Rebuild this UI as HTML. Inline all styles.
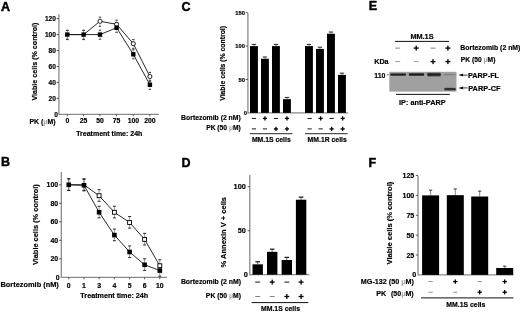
<!DOCTYPE html>
<html><head><meta charset="utf-8"><style>
html,body{margin:0;padding:0;background:#fff;}
body{width:520px;height:312px;overflow:hidden;}
svg{display:block;font-family:"Liberation Sans",sans-serif;filter:grayscale(1) blur(0.3px);}
</style></head><body>
<svg width="520" height="312" viewBox="0 0 520 312">
<rect width="520" height="312" fill="#fff"/>
<text x="1.00" y="10.60" font-size="12.5" text-anchor="start" font-weight="bold" fill="#000" stroke="#000" stroke-width="0.45">A</text>
<text x="0.90" y="166.40" font-size="12.5" text-anchor="start" font-weight="bold" fill="#000" stroke="#000" stroke-width="0.45">B</text>
<text x="181.60" y="10.60" font-size="12.5" text-anchor="start" font-weight="bold" fill="#000" stroke="#000" stroke-width="0.45">C</text>
<text x="181.50" y="166.50" font-size="12.5" text-anchor="start" font-weight="bold" fill="#000" stroke="#000" stroke-width="0.45">D</text>
<text x="368.80" y="10.20" font-size="12.5" text-anchor="start" font-weight="bold" fill="#000" stroke="#000" stroke-width="0.45">E</text>
<text x="368.40" y="166.50" font-size="12.5" text-anchor="start" font-weight="bold" fill="#000" stroke="#000" stroke-width="0.45">F</text>
<line x1="58.90" y1="14.30" x2="58.90" y2="114.80" stroke="#8a8a8a" stroke-width="1.3"/>
<text x="57.90" y="116.60" font-size="6.6" text-anchor="end" font-weight="bold" fill="#000"  stroke="#000" stroke-width="0.18">0</text>
<line x1="56.70" y1="98.36" x2="58.90" y2="98.36" stroke="#333" stroke-width="0.8"/>
<text x="55.90" y="100.66" font-size="6.6" text-anchor="end" font-weight="bold" fill="#000"  stroke="#000" stroke-width="0.18">20</text>
<line x1="56.70" y1="82.42" x2="58.90" y2="82.42" stroke="#333" stroke-width="0.8"/>
<text x="55.90" y="84.72" font-size="6.6" text-anchor="end" font-weight="bold" fill="#000"  stroke="#000" stroke-width="0.18">40</text>
<line x1="56.70" y1="66.47" x2="58.90" y2="66.47" stroke="#333" stroke-width="0.8"/>
<text x="55.90" y="68.78" font-size="6.6" text-anchor="end" font-weight="bold" fill="#000"  stroke="#000" stroke-width="0.18">60</text>
<line x1="56.70" y1="50.53" x2="58.90" y2="50.53" stroke="#333" stroke-width="0.8"/>
<text x="55.90" y="52.84" font-size="6.6" text-anchor="end" font-weight="bold" fill="#000"  stroke="#000" stroke-width="0.18">80</text>
<line x1="56.70" y1="34.59" x2="58.90" y2="34.59" stroke="#333" stroke-width="0.8"/>
<text x="55.90" y="36.90" font-size="6.6" text-anchor="end" font-weight="bold" fill="#000"  stroke="#000" stroke-width="0.18">100</text>
<line x1="56.70" y1="18.65" x2="58.90" y2="18.65" stroke="#333" stroke-width="0.8"/>
<text x="55.90" y="20.95" font-size="6.6" text-anchor="end" font-weight="bold" fill="#000"  stroke="#000" stroke-width="0.18">120</text>
<line x1="58.90" y1="114.30" x2="159.00" y2="114.30" stroke="#8a8a8a" stroke-width="1.3"/>
<line x1="67.30" y1="114.30" x2="67.30" y2="116.30" stroke="#333" stroke-width="0.8"/>
<text x="67.30" y="123.20" font-size="6.8" text-anchor="middle" font-weight="bold" fill="#000"  stroke="#000" stroke-width="0.18">0</text>
<line x1="83.60" y1="114.30" x2="83.60" y2="116.30" stroke="#333" stroke-width="0.8"/>
<text x="83.60" y="123.20" font-size="6.8" text-anchor="middle" font-weight="bold" fill="#000"  stroke="#000" stroke-width="0.18">25</text>
<line x1="100.00" y1="114.30" x2="100.00" y2="116.30" stroke="#333" stroke-width="0.8"/>
<text x="100.00" y="123.20" font-size="6.8" text-anchor="middle" font-weight="bold" fill="#000"  stroke="#000" stroke-width="0.18">50</text>
<line x1="116.60" y1="114.30" x2="116.60" y2="116.30" stroke="#333" stroke-width="0.8"/>
<text x="116.60" y="123.20" font-size="6.8" text-anchor="middle" font-weight="bold" fill="#000"  stroke="#000" stroke-width="0.18">75</text>
<line x1="133.30" y1="114.30" x2="133.30" y2="116.30" stroke="#333" stroke-width="0.8"/>
<text x="133.30" y="123.20" font-size="6.8" text-anchor="middle" font-weight="bold" fill="#000"  stroke="#000" stroke-width="0.18">100</text>
<line x1="149.90" y1="114.30" x2="149.90" y2="116.30" stroke="#333" stroke-width="0.8"/>
<text x="149.90" y="123.20" font-size="6.8" text-anchor="middle" font-weight="bold" fill="#000"  stroke="#000" stroke-width="0.18">200</text>
<text x="55.50" y="123.60" font-size="6.9" text-anchor="end" font-weight="bold" fill="#000"  stroke="#000" stroke-width="0.18">PK (<tspan fill="#a0a0a0" stroke="none">μ</tspan>M)</text>
<text x="109.30" y="135.60" font-size="7.0" text-anchor="middle" font-weight="bold" fill="#000"  stroke="#000" stroke-width="0.18">Treatment time: 24h</text>
<text transform="translate(37.20,61.60) rotate(-90)" font-size="7.15" text-anchor="middle" font-weight="bold" stroke="#000" stroke-width="0.18">Viable cells (% control)</text>
<polyline points="67.30,34.59 83.60,34.59 100.00,21.28 116.60,24.31 133.30,43.68 149.90,76.52" fill="none" stroke="#111" stroke-width="0.9"/>
<polyline points="67.30,34.59 83.60,34.59 100.00,34.59 116.60,27.74 133.30,54.28 149.90,84.73" fill="none" stroke="#111" stroke-width="0.9"/>
<line x1="67.30" y1="30.49" x2="67.30" y2="34.59" stroke="#999" stroke-width="0.6"/>
<line x1="66.10" y1="30.49" x2="68.50" y2="30.49" stroke="#222" stroke-width="0.9"/>
<line x1="67.30" y1="34.59" x2="67.30" y2="39.59" stroke="#999" stroke-width="0.6"/>
<line x1="66.10" y1="39.59" x2="68.50" y2="39.59" stroke="#222" stroke-width="0.9"/>
<line x1="83.60" y1="30.49" x2="83.60" y2="34.59" stroke="#999" stroke-width="0.6"/>
<line x1="82.40" y1="30.49" x2="84.80" y2="30.49" stroke="#222" stroke-width="0.9"/>
<line x1="83.60" y1="34.59" x2="83.60" y2="39.59" stroke="#999" stroke-width="0.6"/>
<line x1="82.40" y1="39.59" x2="84.80" y2="39.59" stroke="#222" stroke-width="0.9"/>
<line x1="100.00" y1="17.18" x2="100.00" y2="21.28" stroke="#999" stroke-width="0.6"/>
<line x1="98.80" y1="17.18" x2="101.20" y2="17.18" stroke="#222" stroke-width="0.9"/>
<line x1="100.00" y1="21.28" x2="100.00" y2="26.28" stroke="#999" stroke-width="0.6"/>
<line x1="98.80" y1="26.28" x2="101.20" y2="26.28" stroke="#222" stroke-width="0.9"/>
<line x1="116.60" y1="20.21" x2="116.60" y2="24.31" stroke="#999" stroke-width="0.6"/>
<line x1="115.40" y1="20.21" x2="117.80" y2="20.21" stroke="#222" stroke-width="0.9"/>
<line x1="116.60" y1="24.31" x2="116.60" y2="29.31" stroke="#999" stroke-width="0.6"/>
<line x1="115.40" y1="29.31" x2="117.80" y2="29.31" stroke="#222" stroke-width="0.9"/>
<line x1="133.30" y1="39.58" x2="133.30" y2="43.68" stroke="#999" stroke-width="0.6"/>
<line x1="132.10" y1="39.58" x2="134.50" y2="39.58" stroke="#222" stroke-width="0.9"/>
<line x1="133.30" y1="43.68" x2="133.30" y2="48.68" stroke="#999" stroke-width="0.6"/>
<line x1="132.10" y1="48.68" x2="134.50" y2="48.68" stroke="#222" stroke-width="0.9"/>
<line x1="149.90" y1="72.42" x2="149.90" y2="76.52" stroke="#999" stroke-width="0.6"/>
<line x1="148.70" y1="72.42" x2="151.10" y2="72.42" stroke="#222" stroke-width="0.9"/>
<line x1="149.90" y1="76.52" x2="149.90" y2="81.52" stroke="#999" stroke-width="0.6"/>
<line x1="148.70" y1="81.52" x2="151.10" y2="81.52" stroke="#222" stroke-width="0.9"/>
<line x1="67.30" y1="30.19" x2="67.30" y2="34.59" stroke="#999" stroke-width="0.6"/>
<line x1="66.10" y1="30.19" x2="68.50" y2="30.19" stroke="#222" stroke-width="0.9"/>
<line x1="67.30" y1="34.59" x2="67.30" y2="39.19" stroke="#999" stroke-width="0.6"/>
<line x1="66.10" y1="39.19" x2="68.50" y2="39.19" stroke="#222" stroke-width="0.9"/>
<line x1="83.60" y1="30.19" x2="83.60" y2="34.59" stroke="#999" stroke-width="0.6"/>
<line x1="82.40" y1="30.19" x2="84.80" y2="30.19" stroke="#222" stroke-width="0.9"/>
<line x1="83.60" y1="34.59" x2="83.60" y2="39.19" stroke="#999" stroke-width="0.6"/>
<line x1="82.40" y1="39.19" x2="84.80" y2="39.19" stroke="#222" stroke-width="0.9"/>
<line x1="100.00" y1="30.19" x2="100.00" y2="34.59" stroke="#999" stroke-width="0.6"/>
<line x1="98.80" y1="30.19" x2="101.20" y2="30.19" stroke="#222" stroke-width="0.9"/>
<line x1="100.00" y1="34.59" x2="100.00" y2="39.19" stroke="#999" stroke-width="0.6"/>
<line x1="98.80" y1="39.19" x2="101.20" y2="39.19" stroke="#222" stroke-width="0.9"/>
<line x1="116.60" y1="23.34" x2="116.60" y2="27.74" stroke="#999" stroke-width="0.6"/>
<line x1="115.40" y1="23.34" x2="117.80" y2="23.34" stroke="#222" stroke-width="0.9"/>
<line x1="116.60" y1="27.74" x2="116.60" y2="32.34" stroke="#999" stroke-width="0.6"/>
<line x1="115.40" y1="32.34" x2="117.80" y2="32.34" stroke="#222" stroke-width="0.9"/>
<line x1="133.30" y1="49.88" x2="133.30" y2="54.28" stroke="#999" stroke-width="0.6"/>
<line x1="132.10" y1="49.88" x2="134.50" y2="49.88" stroke="#222" stroke-width="0.9"/>
<line x1="133.30" y1="54.28" x2="133.30" y2="58.88" stroke="#999" stroke-width="0.6"/>
<line x1="132.10" y1="58.88" x2="134.50" y2="58.88" stroke="#222" stroke-width="0.9"/>
<line x1="149.90" y1="80.33" x2="149.90" y2="84.73" stroke="#999" stroke-width="0.6"/>
<line x1="148.70" y1="80.33" x2="151.10" y2="80.33" stroke="#222" stroke-width="0.9"/>
<line x1="149.90" y1="84.73" x2="149.90" y2="89.33" stroke="#999" stroke-width="0.6"/>
<line x1="148.70" y1="89.33" x2="151.10" y2="89.33" stroke="#222" stroke-width="0.9"/>
<rect x="98.05" y="19.33" width="3.90" height="3.90" rx="1.6" fill="#fff" stroke="#000" stroke-width="0.9"/>
<rect x="114.65" y="22.36" width="3.90" height="3.90" rx="1.6" fill="#fff" stroke="#000" stroke-width="0.9"/>
<rect x="131.35" y="41.73" width="3.90" height="3.90" rx="1.6" fill="#fff" stroke="#000" stroke-width="0.9"/>
<rect x="147.95" y="74.57" width="3.90" height="3.90" rx="1.6" fill="#fff" stroke="#000" stroke-width="0.9"/>
<rect x="65.10" y="32.39" width="4.40" height="4.40" fill="#000" />
<rect x="81.40" y="32.39" width="4.40" height="4.40" fill="#000" />
<rect x="97.80" y="32.39" width="4.40" height="4.40" fill="#000" />
<rect x="114.40" y="25.54" width="4.40" height="4.40" fill="#000" />
<rect x="131.10" y="52.08" width="4.40" height="4.40" fill="#000" />
<rect x="147.70" y="82.53" width="4.40" height="4.40" fill="#000" />
<line x1="61.30" y1="171.90" x2="61.30" y2="277.80" stroke="#8a8a8a" stroke-width="1.3"/>
<text x="59.60" y="279.71" font-size="6.9" text-anchor="end" font-weight="bold" fill="#000"  stroke="#000" stroke-width="0.18">0</text>
<line x1="59.10" y1="258.80" x2="61.30" y2="258.80" stroke="#333" stroke-width="0.8"/>
<text x="58.10" y="261.21" font-size="6.9" text-anchor="end" font-weight="bold" fill="#000"  stroke="#000" stroke-width="0.18">20</text>
<line x1="59.10" y1="240.30" x2="61.30" y2="240.30" stroke="#333" stroke-width="0.8"/>
<text x="58.10" y="242.71" font-size="6.9" text-anchor="end" font-weight="bold" fill="#000"  stroke="#000" stroke-width="0.18">40</text>
<line x1="59.10" y1="221.80" x2="61.30" y2="221.80" stroke="#333" stroke-width="0.8"/>
<text x="58.10" y="224.21" font-size="6.9" text-anchor="end" font-weight="bold" fill="#000"  stroke="#000" stroke-width="0.18">60</text>
<line x1="59.10" y1="203.30" x2="61.30" y2="203.30" stroke="#333" stroke-width="0.8"/>
<text x="58.10" y="205.71" font-size="6.9" text-anchor="end" font-weight="bold" fill="#000"  stroke="#000" stroke-width="0.18">80</text>
<line x1="59.10" y1="184.80" x2="61.30" y2="184.80" stroke="#333" stroke-width="0.8"/>
<text x="58.10" y="187.21" font-size="6.9" text-anchor="end" font-weight="bold" fill="#000"  stroke="#000" stroke-width="0.18">100</text>
<line x1="61.30" y1="277.30" x2="167.00" y2="277.30" stroke="#8a8a8a" stroke-width="1.3"/>
<line x1="68.75" y1="277.30" x2="68.75" y2="279.30" stroke="#333" stroke-width="0.8"/>
<text x="68.75" y="287.60" font-size="6.9" text-anchor="middle" font-weight="bold" fill="#000"  stroke="#000" stroke-width="0.18">0</text>
<line x1="84.00" y1="277.30" x2="84.00" y2="279.30" stroke="#333" stroke-width="0.8"/>
<text x="84.00" y="287.60" font-size="6.9" text-anchor="middle" font-weight="bold" fill="#000"  stroke="#000" stroke-width="0.18">1</text>
<line x1="99.10" y1="277.30" x2="99.10" y2="279.30" stroke="#333" stroke-width="0.8"/>
<text x="99.10" y="287.60" font-size="6.9" text-anchor="middle" font-weight="bold" fill="#000"  stroke="#000" stroke-width="0.18">3</text>
<line x1="114.40" y1="277.30" x2="114.40" y2="279.30" stroke="#333" stroke-width="0.8"/>
<text x="114.40" y="287.60" font-size="6.9" text-anchor="middle" font-weight="bold" fill="#000"  stroke="#000" stroke-width="0.18">4</text>
<line x1="129.60" y1="277.30" x2="129.60" y2="279.30" stroke="#333" stroke-width="0.8"/>
<text x="129.60" y="287.60" font-size="6.9" text-anchor="middle" font-weight="bold" fill="#000"  stroke="#000" stroke-width="0.18">5</text>
<line x1="144.60" y1="277.30" x2="144.60" y2="279.30" stroke="#333" stroke-width="0.8"/>
<text x="144.60" y="287.60" font-size="6.9" text-anchor="middle" font-weight="bold" fill="#000"  stroke="#000" stroke-width="0.18">6</text>
<line x1="159.80" y1="277.30" x2="159.80" y2="279.30" stroke="#333" stroke-width="0.8"/>
<text x="159.80" y="287.60" font-size="6.9" text-anchor="middle" font-weight="bold" fill="#000"  stroke="#000" stroke-width="0.18">10</text>
<text x="58.80" y="287.30" font-size="7.4" text-anchor="end" font-weight="bold" fill="#000"  stroke="#000" stroke-width="0.18">Bortezomib (nM)</text>
<text x="114.30" y="298.30" font-size="7.2" text-anchor="middle" font-weight="bold" fill="#000"  stroke="#000" stroke-width="0.18">Treatment time: 24h</text>
<text transform="translate(38.00,224.65) rotate(-90)" font-size="7.42" text-anchor="middle" font-weight="bold" stroke="#000" stroke-width="0.18">Viable cells (% control)</text>
<polyline points="68.75,184.80 84.00,184.80 99.10,195.72 114.40,212.27 129.60,222.54 144.60,239.38 159.80,265.74" fill="none" stroke="#111" stroke-width="0.9"/>
<polyline points="68.75,184.80 84.00,185.26 99.10,212.27 114.40,235.12 129.60,251.96 144.60,264.81 159.80,270.55" fill="none" stroke="#111" stroke-width="0.9"/>
<line x1="68.75" y1="178.80" x2="68.75" y2="184.80" stroke="#555" stroke-width="0.6"/>
<line x1="67.25" y1="178.80" x2="70.25" y2="178.80" stroke="#111" stroke-width="0.9"/>
<line x1="68.75" y1="184.80" x2="68.75" y2="190.40" stroke="#555" stroke-width="0.6"/>
<line x1="67.25" y1="190.40" x2="70.25" y2="190.40" stroke="#111" stroke-width="0.9"/>
<line x1="84.00" y1="178.80" x2="84.00" y2="184.80" stroke="#555" stroke-width="0.6"/>
<line x1="82.50" y1="178.80" x2="85.50" y2="178.80" stroke="#111" stroke-width="0.9"/>
<line x1="84.00" y1="184.80" x2="84.00" y2="190.40" stroke="#555" stroke-width="0.6"/>
<line x1="82.50" y1="190.40" x2="85.50" y2="190.40" stroke="#111" stroke-width="0.9"/>
<line x1="99.10" y1="189.72" x2="99.10" y2="195.72" stroke="#555" stroke-width="0.6"/>
<line x1="97.60" y1="189.72" x2="100.60" y2="189.72" stroke="#111" stroke-width="0.9"/>
<line x1="99.10" y1="195.72" x2="99.10" y2="201.31" stroke="#555" stroke-width="0.6"/>
<line x1="97.60" y1="201.31" x2="100.60" y2="201.31" stroke="#111" stroke-width="0.9"/>
<line x1="114.40" y1="206.27" x2="114.40" y2="212.27" stroke="#555" stroke-width="0.6"/>
<line x1="112.90" y1="206.27" x2="115.90" y2="206.27" stroke="#111" stroke-width="0.9"/>
<line x1="114.40" y1="212.27" x2="114.40" y2="217.87" stroke="#555" stroke-width="0.6"/>
<line x1="112.90" y1="217.87" x2="115.90" y2="217.87" stroke="#111" stroke-width="0.9"/>
<line x1="129.60" y1="216.54" x2="129.60" y2="222.54" stroke="#555" stroke-width="0.6"/>
<line x1="128.10" y1="216.54" x2="131.10" y2="216.54" stroke="#111" stroke-width="0.9"/>
<line x1="129.60" y1="222.54" x2="129.60" y2="228.14" stroke="#555" stroke-width="0.6"/>
<line x1="128.10" y1="228.14" x2="131.10" y2="228.14" stroke="#111" stroke-width="0.9"/>
<line x1="144.60" y1="233.38" x2="144.60" y2="239.38" stroke="#555" stroke-width="0.6"/>
<line x1="143.10" y1="233.38" x2="146.10" y2="233.38" stroke="#111" stroke-width="0.9"/>
<line x1="144.60" y1="239.38" x2="144.60" y2="244.97" stroke="#555" stroke-width="0.6"/>
<line x1="143.10" y1="244.97" x2="146.10" y2="244.97" stroke="#111" stroke-width="0.9"/>
<line x1="159.80" y1="259.74" x2="159.80" y2="265.74" stroke="#555" stroke-width="0.6"/>
<line x1="158.30" y1="259.74" x2="161.30" y2="259.74" stroke="#111" stroke-width="0.9"/>
<line x1="159.80" y1="265.74" x2="159.80" y2="271.34" stroke="#555" stroke-width="0.6"/>
<line x1="158.30" y1="271.34" x2="161.30" y2="271.34" stroke="#111" stroke-width="0.9"/>
<line x1="68.75" y1="178.80" x2="68.75" y2="184.80" stroke="#555" stroke-width="0.6"/>
<line x1="67.25" y1="178.80" x2="70.25" y2="178.80" stroke="#111" stroke-width="0.9"/>
<line x1="68.75" y1="184.80" x2="68.75" y2="190.40" stroke="#555" stroke-width="0.6"/>
<line x1="67.25" y1="190.40" x2="70.25" y2="190.40" stroke="#111" stroke-width="0.9"/>
<line x1="84.00" y1="179.26" x2="84.00" y2="185.26" stroke="#555" stroke-width="0.6"/>
<line x1="82.50" y1="179.26" x2="85.50" y2="179.26" stroke="#111" stroke-width="0.9"/>
<line x1="84.00" y1="185.26" x2="84.00" y2="190.86" stroke="#555" stroke-width="0.6"/>
<line x1="82.50" y1="190.86" x2="85.50" y2="190.86" stroke="#111" stroke-width="0.9"/>
<line x1="99.10" y1="206.27" x2="99.10" y2="212.27" stroke="#555" stroke-width="0.6"/>
<line x1="97.60" y1="206.27" x2="100.60" y2="206.27" stroke="#111" stroke-width="0.9"/>
<line x1="99.10" y1="212.27" x2="99.10" y2="217.87" stroke="#555" stroke-width="0.6"/>
<line x1="97.60" y1="217.87" x2="100.60" y2="217.87" stroke="#111" stroke-width="0.9"/>
<line x1="114.40" y1="229.12" x2="114.40" y2="235.12" stroke="#555" stroke-width="0.6"/>
<line x1="112.90" y1="229.12" x2="115.90" y2="229.12" stroke="#111" stroke-width="0.9"/>
<line x1="114.40" y1="235.12" x2="114.40" y2="240.72" stroke="#555" stroke-width="0.6"/>
<line x1="112.90" y1="240.72" x2="115.90" y2="240.72" stroke="#111" stroke-width="0.9"/>
<line x1="129.60" y1="245.96" x2="129.60" y2="251.96" stroke="#555" stroke-width="0.6"/>
<line x1="128.10" y1="245.96" x2="131.10" y2="245.96" stroke="#111" stroke-width="0.9"/>
<line x1="129.60" y1="251.96" x2="129.60" y2="257.56" stroke="#555" stroke-width="0.6"/>
<line x1="128.10" y1="257.56" x2="131.10" y2="257.56" stroke="#111" stroke-width="0.9"/>
<line x1="144.60" y1="258.81" x2="144.60" y2="264.81" stroke="#555" stroke-width="0.6"/>
<line x1="143.10" y1="258.81" x2="146.10" y2="258.81" stroke="#111" stroke-width="0.9"/>
<line x1="144.60" y1="264.81" x2="144.60" y2="270.41" stroke="#555" stroke-width="0.6"/>
<line x1="143.10" y1="270.41" x2="146.10" y2="270.41" stroke="#111" stroke-width="0.9"/>
<line x1="159.80" y1="264.55" x2="159.80" y2="270.55" stroke="#555" stroke-width="0.6"/>
<line x1="158.30" y1="264.55" x2="161.30" y2="264.55" stroke="#111" stroke-width="0.9"/>
<line x1="159.80" y1="270.55" x2="159.80" y2="276.15" stroke="#555" stroke-width="0.6"/>
<line x1="158.30" y1="276.15" x2="161.30" y2="276.15" stroke="#111" stroke-width="0.9"/>
<rect x="97.15" y="193.76" width="3.90" height="3.90" rx="0" fill="#fff" stroke="#000" stroke-width="0.9"/>
<rect x="112.45" y="210.32" width="3.90" height="3.90" rx="0" fill="#fff" stroke="#000" stroke-width="0.9"/>
<rect x="127.65" y="220.59" width="3.90" height="3.90" rx="0" fill="#fff" stroke="#000" stroke-width="0.9"/>
<rect x="142.65" y="237.42" width="3.90" height="3.90" rx="0" fill="#fff" stroke="#000" stroke-width="0.9"/>
<rect x="157.85" y="263.79" width="3.90" height="3.90" rx="0" fill="#fff" stroke="#000" stroke-width="0.9"/>
<rect x="66.45" y="182.50" width="4.60" height="4.60" fill="#000" />
<rect x="81.70" y="182.96" width="4.60" height="4.60" fill="#000" />
<rect x="96.80" y="209.97" width="4.60" height="4.60" fill="#000" />
<rect x="112.10" y="232.82" width="4.60" height="4.60" fill="#000" />
<rect x="127.30" y="249.66" width="4.60" height="4.60" fill="#000" />
<rect x="142.30" y="262.51" width="4.60" height="4.60" fill="#000" />
<rect x="157.50" y="268.25" width="4.60" height="4.60" fill="#000" />
<line x1="247.90" y1="13.00" x2="247.90" y2="113.40" stroke="#8a8a8a" stroke-width="1.3"/>
<text x="246.90" y="114.92" font-size="5.8" text-anchor="end" font-weight="bold" fill="#000"  stroke="#000" stroke-width="0.18">0</text>
<line x1="245.70" y1="79.50" x2="247.90" y2="79.50" stroke="#333" stroke-width="0.8"/>
<text x="244.90" y="81.52" font-size="5.8" text-anchor="end" font-weight="bold" fill="#000"  stroke="#000" stroke-width="0.18">50</text>
<line x1="245.70" y1="46.10" x2="247.90" y2="46.10" stroke="#333" stroke-width="0.8"/>
<text x="244.90" y="48.12" font-size="5.8" text-anchor="end" font-weight="bold" fill="#000"  stroke="#000" stroke-width="0.18">100</text>
<line x1="245.70" y1="12.70" x2="247.90" y2="12.70" stroke="#333" stroke-width="0.8"/>
<text x="244.90" y="14.72" font-size="5.8" text-anchor="end" font-weight="bold" fill="#000"  stroke="#000" stroke-width="0.18">150</text>
<line x1="247.90" y1="112.90" x2="348.00" y2="112.90" stroke="#8a8a8a" stroke-width="1.3"/>
<rect x="250.00" y="46.10" width="7.90" height="66.80" fill="#000" />
<line x1="253.95" y1="44.40" x2="253.95" y2="46.10" stroke="#555" stroke-width="0.7"/>
<line x1="251.80" y1="44.40" x2="256.10" y2="44.40" stroke="#222" stroke-width="1.0"/>
<rect x="261.00" y="58.73" width="7.90" height="54.17" fill="#000" />
<line x1="264.95" y1="57.03" x2="264.95" y2="58.73" stroke="#555" stroke-width="0.7"/>
<line x1="262.80" y1="57.03" x2="267.10" y2="57.03" stroke="#222" stroke-width="1.0"/>
<rect x="272.00" y="46.10" width="7.90" height="66.80" fill="#000" />
<line x1="275.95" y1="44.40" x2="275.95" y2="46.10" stroke="#555" stroke-width="0.7"/>
<line x1="273.80" y1="44.40" x2="278.10" y2="44.40" stroke="#222" stroke-width="1.0"/>
<rect x="283.00" y="99.14" width="7.90" height="13.76" fill="#000" />
<line x1="286.95" y1="97.44" x2="286.95" y2="99.14" stroke="#555" stroke-width="0.7"/>
<line x1="284.80" y1="97.44" x2="289.10" y2="97.44" stroke="#222" stroke-width="1.0"/>
<rect x="305.00" y="46.10" width="7.90" height="66.80" fill="#000" />
<line x1="308.95" y1="44.40" x2="308.95" y2="46.10" stroke="#555" stroke-width="0.7"/>
<line x1="306.80" y1="44.40" x2="311.10" y2="44.40" stroke="#222" stroke-width="1.0"/>
<rect x="316.00" y="48.91" width="7.90" height="63.99" fill="#000" />
<line x1="319.95" y1="47.21" x2="319.95" y2="48.91" stroke="#555" stroke-width="0.7"/>
<line x1="317.80" y1="47.21" x2="322.10" y2="47.21" stroke="#222" stroke-width="1.0"/>
<rect x="327.00" y="33.74" width="7.90" height="79.16" fill="#000" />
<line x1="330.95" y1="32.04" x2="330.95" y2="33.74" stroke="#555" stroke-width="0.7"/>
<line x1="328.80" y1="32.04" x2="333.10" y2="32.04" stroke="#222" stroke-width="1.0"/>
<rect x="338.00" y="74.89" width="7.90" height="38.01" fill="#000" />
<line x1="341.95" y1="73.19" x2="341.95" y2="74.89" stroke="#555" stroke-width="0.7"/>
<line x1="339.80" y1="73.19" x2="344.10" y2="73.19" stroke="#222" stroke-width="1.0"/>
<rect x="251.85" y="117.95" width="4.20" height="0.90" fill="#000" />
<rect x="251.85" y="128.45" width="4.20" height="0.90" fill="#000" />
<rect x="262.85" y="117.75" width="4.20" height="1.30" fill="#000" />
<rect x="264.30" y="116.30" width="1.30" height="4.20" fill="#000" />
<rect x="262.85" y="128.45" width="4.20" height="0.90" fill="#000" />
<rect x="273.85" y="117.95" width="4.20" height="0.90" fill="#000" />
<rect x="273.85" y="128.25" width="4.20" height="1.30" fill="#000" />
<rect x="275.30" y="126.80" width="1.30" height="4.20" fill="#000" />
<rect x="284.85" y="117.75" width="4.20" height="1.30" fill="#000" />
<rect x="286.30" y="116.30" width="1.30" height="4.20" fill="#000" />
<rect x="284.85" y="128.25" width="4.20" height="1.30" fill="#000" />
<rect x="286.30" y="126.80" width="1.30" height="4.20" fill="#000" />
<rect x="307.55" y="117.95" width="4.20" height="0.90" fill="#000" />
<rect x="307.55" y="128.45" width="4.20" height="0.90" fill="#000" />
<rect x="318.55" y="117.75" width="4.20" height="1.30" fill="#000" />
<rect x="320.00" y="116.30" width="1.30" height="4.20" fill="#000" />
<rect x="318.55" y="128.45" width="4.20" height="0.90" fill="#000" />
<rect x="329.55" y="117.95" width="4.20" height="0.90" fill="#000" />
<rect x="329.55" y="128.25" width="4.20" height="1.30" fill="#000" />
<rect x="331.00" y="126.80" width="1.30" height="4.20" fill="#000" />
<rect x="340.55" y="117.75" width="4.20" height="1.30" fill="#000" />
<rect x="342.00" y="116.30" width="1.30" height="4.20" fill="#000" />
<rect x="340.55" y="128.25" width="4.20" height="1.30" fill="#000" />
<rect x="342.00" y="126.80" width="1.30" height="4.20" fill="#000" />
<text x="240.80" y="120.20" font-size="6.85" text-anchor="end" font-weight="bold" fill="#000"  stroke="#000" stroke-width="0.18">Bortezomib (2 nM)</text>
<text x="240.80" y="130.40" font-size="6.7" text-anchor="end" font-weight="bold" fill="#000"  stroke="#000" stroke-width="0.18">PK (50 <tspan fill="#a0a0a0" stroke="none">μ</tspan>M)</text>
<line x1="249.80" y1="133.70" x2="292.50" y2="133.70" stroke="#111" stroke-width="0.9"/>
<line x1="305.00" y1="133.70" x2="347.60" y2="133.70" stroke="#111" stroke-width="0.9"/>
<text x="271.30" y="141.80" font-size="6.85" text-anchor="middle" font-weight="bold" fill="#000"  stroke="#000" stroke-width="0.18">MM.1S cells</text>
<text x="327.20" y="141.80" font-size="6.85" text-anchor="middle" font-weight="bold" fill="#000"  stroke="#000" stroke-width="0.18">MM.1R cells</text>
<text transform="translate(225.30,63.40) rotate(-90)" font-size="6.85" text-anchor="middle" font-weight="bold" stroke="#000" stroke-width="0.18">Viable cells (% control)</text>
<line x1="249.80" y1="175.10" x2="249.80" y2="275.20" stroke="#8a8a8a" stroke-width="1.3"/>
<text x="247.80" y="277.25" font-size="7.3" text-anchor="end" font-weight="bold" fill="#000"  stroke="#000" stroke-width="0.18">0</text>
<line x1="247.60" y1="230.70" x2="249.80" y2="230.70" stroke="#333" stroke-width="0.8"/>
<text x="245.80" y="233.25" font-size="7.3" text-anchor="end" font-weight="bold" fill="#000"  stroke="#000" stroke-width="0.18">50</text>
<line x1="247.60" y1="186.70" x2="249.80" y2="186.70" stroke="#333" stroke-width="0.8"/>
<text x="245.80" y="189.25" font-size="7.3" text-anchor="end" font-weight="bold" fill="#000"  stroke="#000" stroke-width="0.18">100</text>
<line x1="249.80" y1="274.70" x2="309.30" y2="274.70" stroke="#8a8a8a" stroke-width="1.3"/>
<rect x="252.50" y="264.32" width="10.40" height="10.38" fill="#000" />
<line x1="257.70" y1="261.72" x2="257.70" y2="264.32" stroke="#444" stroke-width="0.8"/>
<line x1="255.40" y1="261.72" x2="260.00" y2="261.72" stroke="#222" stroke-width="1.3"/>
<rect x="267.00" y="251.82" width="10.40" height="22.88" fill="#000" />
<line x1="272.20" y1="249.22" x2="272.20" y2="251.82" stroke="#444" stroke-width="0.8"/>
<line x1="269.90" y1="249.22" x2="274.50" y2="249.22" stroke="#222" stroke-width="1.3"/>
<rect x="281.60" y="260.00" width="10.40" height="14.70" fill="#000" />
<line x1="286.80" y1="257.40" x2="286.80" y2="260.00" stroke="#444" stroke-width="0.8"/>
<line x1="284.50" y1="257.40" x2="289.10" y2="257.40" stroke="#222" stroke-width="1.3"/>
<rect x="295.90" y="199.72" width="10.40" height="74.98" fill="#000" />
<line x1="301.10" y1="197.12" x2="301.10" y2="199.72" stroke="#444" stroke-width="0.8"/>
<line x1="298.80" y1="197.12" x2="303.40" y2="197.12" stroke="#222" stroke-width="1.3"/>
<rect x="255.20" y="281.65" width="5.00" height="0.90" fill="#000" />
<rect x="255.20" y="296.05" width="5.00" height="0.90" fill="#777" />
<rect x="269.70" y="281.45" width="5.00" height="1.30" fill="#000" />
<rect x="271.55" y="279.60" width="1.30" height="5.00" fill="#000" />
<rect x="269.70" y="296.05" width="5.00" height="0.90" fill="#777" />
<rect x="284.30" y="281.65" width="5.00" height="0.90" fill="#000" />
<rect x="284.30" y="295.85" width="5.00" height="1.30" fill="#000" />
<rect x="286.15" y="294.00" width="1.30" height="5.00" fill="#000" />
<rect x="298.60" y="281.45" width="5.00" height="1.30" fill="#000" />
<rect x="300.45" y="279.60" width="1.30" height="5.00" fill="#000" />
<rect x="298.60" y="295.85" width="5.00" height="1.30" fill="#000" />
<rect x="300.45" y="294.00" width="1.30" height="5.00" fill="#000" />
<text x="241.00" y="284.30" font-size="6.9" text-anchor="end" font-weight="bold" fill="#000"  stroke="#000" stroke-width="0.18">Bortezomib (2 nM)</text>
<text x="241.00" y="297.60" font-size="6.8" text-anchor="end" font-weight="bold" fill="#000"  stroke="#000" stroke-width="0.18">PK (50 <tspan fill="#a0a0a0" stroke="none">μ</tspan>M)</text>
<line x1="251.70" y1="302.60" x2="308.30" y2="302.60" stroke="#111" stroke-width="1.0"/>
<text x="280.50" y="311.00" font-size="6.9" text-anchor="middle" font-weight="bold" fill="#000"  stroke="#000" stroke-width="0.18">MM.1S cells</text>
<text transform="translate(225.70,232.20) rotate(-90)" font-size="7.5" text-anchor="middle" font-weight="bold" stroke="#000" stroke-width="0.18">% Annexin V + cells</text>
<text x="422.00" y="39.00" font-size="7.3" text-anchor="middle" font-weight="bold" fill="#000"  stroke="#000" stroke-width="0.18">MM.1S</text>
<line x1="395.10" y1="41.40" x2="449.00" y2="41.40" stroke="#111" stroke-width="1.0"/>
<rect x="395.20" y="47.65" width="5.00" height="0.90" fill="#777" />
<rect x="395.20" y="61.15" width="5.00" height="0.90" fill="#999" />
<rect x="413.70" y="47.45" width="5.00" height="1.30" fill="#000" />
<rect x="415.55" y="45.60" width="1.30" height="5.00" fill="#000" />
<rect x="413.70" y="61.15" width="5.00" height="0.90" fill="#999" />
<rect x="430.50" y="47.65" width="5.00" height="0.90" fill="#777" />
<rect x="430.50" y="60.95" width="5.00" height="1.30" fill="#000" />
<rect x="432.35" y="59.10" width="1.30" height="5.00" fill="#000" />
<rect x="445.40" y="47.45" width="5.00" height="1.30" fill="#000" />
<rect x="447.25" y="45.60" width="1.30" height="5.00" fill="#000" />
<rect x="445.40" y="60.95" width="5.00" height="1.30" fill="#000" />
<rect x="447.25" y="59.10" width="1.30" height="5.00" fill="#000" />
<text x="460.30" y="50.20" font-size="6.9" text-anchor="start" font-weight="bold" fill="#000"  stroke="#000" stroke-width="0.18">Bortezomib (2 nM)</text>
<text x="460.80" y="61.60" font-size="6.7" text-anchor="start" font-weight="bold" fill="#000"  stroke="#000" stroke-width="0.18">PK (50 <tspan fill="#a0a0a0" stroke="none">μ</tspan>M)</text>
<text x="374.20" y="63.50" font-size="7.2" text-anchor="start" font-weight="bold" fill="#000"  stroke="#000" stroke-width="0.18">KDa</text>
<text x="374.20" y="78.00" font-size="6.9" text-anchor="start" font-weight="bold" fill="#000"  stroke="#000" stroke-width="0.18">110</text>
<line x1="386.90" y1="74.80" x2="388.80" y2="74.80" stroke="#333" stroke-width="0.8"/>
<rect x="389.30" y="71.80" width="67.20" height="19.80" fill="#a0a0a0" />
<defs><linearGradient id="bandg" x1="0" y1="0" x2="0" y2="1"><stop offset="0" stop-color="#555"/><stop offset="0.5" stop-color="#1a1a1a"/><stop offset="1" stop-color="#555"/></linearGradient></defs>
<rect x="390.3" y="73.2" width="15.70" height="2.70" fill="url(#bandg)" opacity="1" rx="1"/>
<rect x="408.8" y="73.0" width="15.40" height="3.10" fill="url(#bandg)" opacity="1" rx="1"/>
<rect x="427.2" y="72.7" width="13.60" height="3.90" fill="url(#bandg)" opacity="1" rx="1"/>
<rect x="443.6" y="73.7" width="12.10" height="1.70" fill="url(#bandg)" opacity="0.25" rx="1"/>
<rect x="444.3" y="87.7" width="11.40" height="2.70" fill="url(#bandg)" opacity="1" rx="1"/>
<line x1="396.00" y1="94.40" x2="449.80" y2="94.40" stroke="#111" stroke-width="1.0"/>
<text x="422.30" y="104.60" font-size="7.3" text-anchor="middle" font-weight="bold" fill="#000"  stroke="#000" stroke-width="0.18">IP: anti-PARP</text>
<line x1="462.00" y1="75.10" x2="467.60" y2="75.10" stroke="#111" stroke-width="0.8"/>
<polygon points="458.4,75.10 463.4,73.60 462.6,75.10 463.4,76.60" fill="#000"/>
<line x1="462.00" y1="87.90" x2="467.60" y2="87.90" stroke="#111" stroke-width="0.8"/>
<polygon points="458.4,87.90 463.4,86.40 462.6,87.90 463.4,89.40" fill="#000"/>
<text x="468.00" y="78.10" font-size="7.3" text-anchor="start" font-weight="bold" fill="#000"  stroke="#000" stroke-width="0.18">PARP-FL</text>
<text x="468.20" y="91.00" font-size="7.4" text-anchor="start" font-weight="bold" fill="#000"  stroke="#000" stroke-width="0.18">PARP-CF</text>
<line x1="418.00" y1="175.80" x2="418.00" y2="275.40" stroke="#8a8a8a" stroke-width="1.3"/>
<text x="416.30" y="277.38" font-size="7.1" text-anchor="end" font-weight="bold" fill="#000"  stroke="#000" stroke-width="0.18">0</text>
<line x1="415.80" y1="255.02" x2="418.00" y2="255.02" stroke="#333" stroke-width="0.8"/>
<text x="414.30" y="257.50" font-size="7.1" text-anchor="end" font-weight="bold" fill="#000"  stroke="#000" stroke-width="0.18">25</text>
<line x1="415.80" y1="235.15" x2="418.00" y2="235.15" stroke="#333" stroke-width="0.8"/>
<text x="414.30" y="237.63" font-size="7.1" text-anchor="end" font-weight="bold" fill="#000"  stroke="#000" stroke-width="0.18">50</text>
<line x1="415.80" y1="215.28" x2="418.00" y2="215.28" stroke="#333" stroke-width="0.8"/>
<text x="414.30" y="217.75" font-size="7.1" text-anchor="end" font-weight="bold" fill="#000"  stroke="#000" stroke-width="0.18">75</text>
<line x1="415.80" y1="195.40" x2="418.00" y2="195.40" stroke="#333" stroke-width="0.8"/>
<text x="414.30" y="197.88" font-size="7.1" text-anchor="end" font-weight="bold" fill="#000"  stroke="#000" stroke-width="0.18">100</text>
<line x1="415.80" y1="175.53" x2="418.00" y2="175.53" stroke="#333" stroke-width="0.8"/>
<text x="414.30" y="178.00" font-size="7.1" text-anchor="end" font-weight="bold" fill="#000"  stroke="#000" stroke-width="0.18">125</text>
<line x1="418.00" y1="274.90" x2="513.40" y2="274.90" stroke="#8a8a8a" stroke-width="1.3"/>
<rect x="422.10" y="195.40" width="17.00" height="79.50" fill="#000" />
<line x1="430.60" y1="190.20" x2="430.60" y2="195.40" stroke="#444" stroke-width="0.65"/>
<line x1="429.00" y1="190.20" x2="432.20" y2="190.20" stroke="#222" stroke-width="0.9"/>
<rect x="446.80" y="195.16" width="17.00" height="79.74" fill="#000" />
<line x1="455.30" y1="188.96" x2="455.30" y2="195.16" stroke="#444" stroke-width="0.65"/>
<line x1="453.70" y1="188.96" x2="456.90" y2="188.96" stroke="#222" stroke-width="0.9"/>
<rect x="471.20" y="196.51" width="17.00" height="78.39" fill="#000" />
<line x1="479.70" y1="191.11" x2="479.70" y2="196.51" stroke="#444" stroke-width="0.65"/>
<line x1="478.10" y1="191.11" x2="481.30" y2="191.11" stroke="#222" stroke-width="0.9"/>
<rect x="496.20" y="267.98" width="17.00" height="6.92" fill="#000" />
<line x1="504.70" y1="266.18" x2="504.70" y2="267.98" stroke="#444" stroke-width="0.65"/>
<line x1="503.10" y1="266.18" x2="506.30" y2="266.18" stroke="#222" stroke-width="0.9"/>
<rect x="428.45" y="281.15" width="4.30" height="0.90" fill="#888" />
<rect x="428.45" y="291.75" width="4.30" height="0.90" fill="#888" />
<rect x="453.15" y="280.95" width="4.30" height="1.30" fill="#000" />
<rect x="454.65" y="279.45" width="1.30" height="4.30" fill="#000" />
<rect x="453.15" y="291.75" width="4.30" height="0.90" fill="#888" />
<rect x="477.55" y="281.15" width="4.30" height="0.90" fill="#888" />
<rect x="477.55" y="291.55" width="4.30" height="1.30" fill="#000" />
<rect x="479.05" y="290.05" width="1.30" height="4.30" fill="#000" />
<rect x="502.55" y="280.95" width="4.30" height="1.30" fill="#000" />
<rect x="504.05" y="279.45" width="1.30" height="4.30" fill="#000" />
<rect x="502.55" y="291.55" width="4.30" height="1.30" fill="#000" />
<rect x="504.05" y="290.05" width="1.30" height="4.30" fill="#000" />
<text x="414.00" y="284.10" font-size="7.2" text-anchor="end" font-weight="bold" fill="#000"  stroke="#000" stroke-width="0.18">MG-132 (50 <tspan fill="#a0a0a0" stroke="none">μ</tspan>M)</text>
<text x="376.20" y="296.00" font-size="7.2" text-anchor="start" font-weight="bold" fill="#000"  stroke="#000" stroke-width="0.18">PK</text>
<text x="413.60" y="296.00" font-size="7.0" text-anchor="end" font-weight="bold" fill="#000"  stroke="#000" stroke-width="0.18">(50<tspan fill="#a0a0a0" stroke="none">μ</tspan>M)</text>
<line x1="421.00" y1="297.90" x2="513.40" y2="297.90" stroke="#111" stroke-width="1.0"/>
<text x="465.80" y="306.80" font-size="6.9" text-anchor="middle" font-weight="bold" fill="#000"  stroke="#000" stroke-width="0.18">MM.1S cells</text>
<text transform="translate(392.00,223.10) rotate(-90)" font-size="7.58" text-anchor="middle" font-weight="bold" stroke="#000" stroke-width="0.18">Viable cells (% control)</text>
</svg>
</body></html>
